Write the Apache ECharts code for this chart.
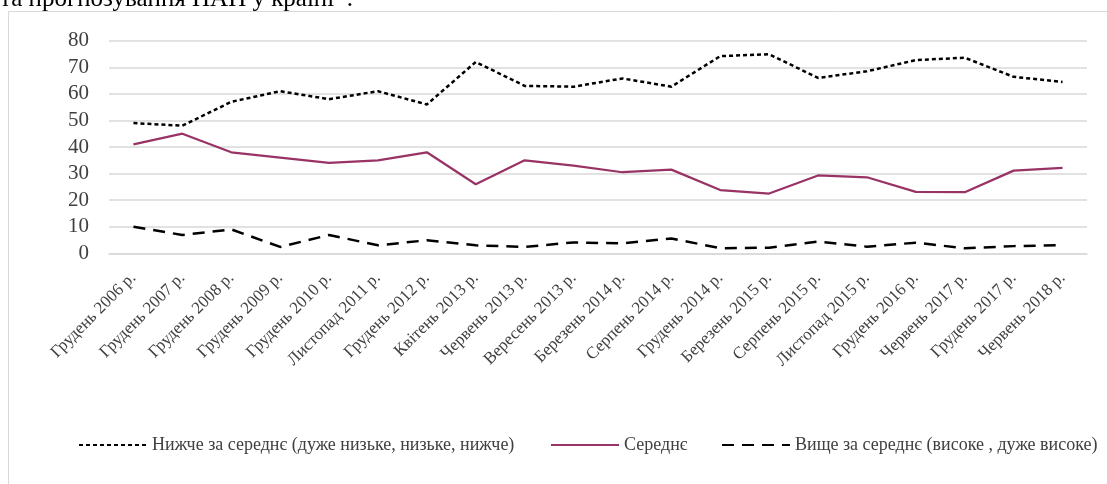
<!DOCTYPE html>
<html>
<head>
<meta charset="utf-8">
<script src="https://cdn.jsdelivr.net/npm/echarts@6/dist/echarts.min.js"></script>
<style>
html,body{margin:0;padding:0;background:#fff;overflow:hidden;}
#chart{width:1107px;height:484px;}
</style>
</head>
<body>
<div id="chart"></div>
<script>
const categories = ['Грудень 2006 р.','Грудень 2007 р.','Грудень 2008 р.','Грудень 2009 р.','Грудень 2010 р.','Листопад 2011 р.','Грудень 2012 р.','Квітень 2013 р.','Червень 2013 р.','Вересень 2013 р.','Березень 2014 р.','Серпень 2014 р.','Грудень 2014 р.','Березень 2015 р.','Серпень 2015 р.','Листопад 2015 р.','Грудень 2016 р.','Червень 2017 р.','Грудень 2017 р.','Червень 2018 р.'];
const belowAvg = [49,48,57,61,58,61,56,72,63,62.7,65.8,62.7,74.2,74.9,66,68.5,72.7,73.6,66.4,64.5];
const average = [41,45,38,36,34,35,38,26,35,33,30.5,31.5,23.8,22.5,29.3,28.6,23.1,23,31.1,32.1];
const aboveAvg = [10,6.9,9,2.4,6.9,3,4.9,3,2.4,4.1,3.7,5.6,1.9,2.1,4.4,2.5,4,1.9,2.7,3.1];
const seriesNames = ['Нижче за середнє (дуже низьке, низьке, нижче)','Середнє','Вище за середнє (високе , дуже високе)'];
const yTicks = {min:0,max:80,interval:10};
const headerText = 'та прогнозування НАП у країні*.';

const FONT = "'Liberation Serif','Times New Roman',serif";
const TXT = '#404040';
const chart = echarts.init(document.getElementById('chart'), null, {renderer:'canvas'});

function legendFor(name, left){
  return {
    data:[name], left:left, top:431, itemWidth:68, itemHeight:14, itemGap:0,
    itemStyle:{color:'rgba(0,0,0,0)',borderWidth:0,opacity:0},
    textStyle:{fontFamily:FONT,fontSize:18,color:TXT}, selectedMode:false
  };
}

chart.setOption({
  animation:false,
  backgroundColor:'#fff',
  graphic:[
    {type:'rect', shape:{x:8.5,y:11.5,width:1200,height:600}, style:{fill:'none',stroke:'#d9d9d9',lineWidth:1}, silent:true, z:-1},
    {type:'text', x:0, y:12, style:{text:headerText, fontSize:25, fontFamily:FONT, fill:'#000', verticalAlign:'bottom', align:'left'}, silent:true}
  ],
  grid:{left:109,right:20,top:40.7,bottom:230.7,containLabel:false},
  legend:[legendFor(seriesNames[0],73),legendFor(seriesNames[1],545),legendFor(seriesNames[2],716)],
  xAxis:{
    type:'category', data:categories, boundaryGap:true,
    axisLine:{show:true,lineStyle:{color:'#d9d9d9',width:1.5}},
    axisTick:{show:false},
    axisLabel:{interval:0,rotate:45,margin:22,fontFamily:FONT,fontSize:17,color:TXT}
  },
  yAxis:{
    type:'value', min:yTicks.min, max:yTicks.max, interval:yTicks.interval,
    axisLine:{show:false}, axisTick:{show:false},
    splitLine:{lineStyle:{color:'#d9d9d9',width:1.5}},
    axisLabel:{margin:20,fontFamily:FONT,fontSize:21,color:TXT}
  },
  series:[
    {name:seriesNames[0],type:'line',data:belowAvg,symbol:'none',
     lineStyle:{color:'#000',width:2.5,type:[4,3]},itemStyle:{color:'#000'}},
    {name:seriesNames[1],type:'line',data:average,symbol:'none',
     lineStyle:{color:'#993366',width:2.25,type:'solid'},itemStyle:{color:'#993366'}},
    {name:seriesNames[2],type:'line',data:aboveAvg,symbol:'none',
     lineStyle:{color:'#000',width:2.5,type:[12,8]},itemStyle:{color:'#000'}}
  ]
});
</script>
</body>
</html>
